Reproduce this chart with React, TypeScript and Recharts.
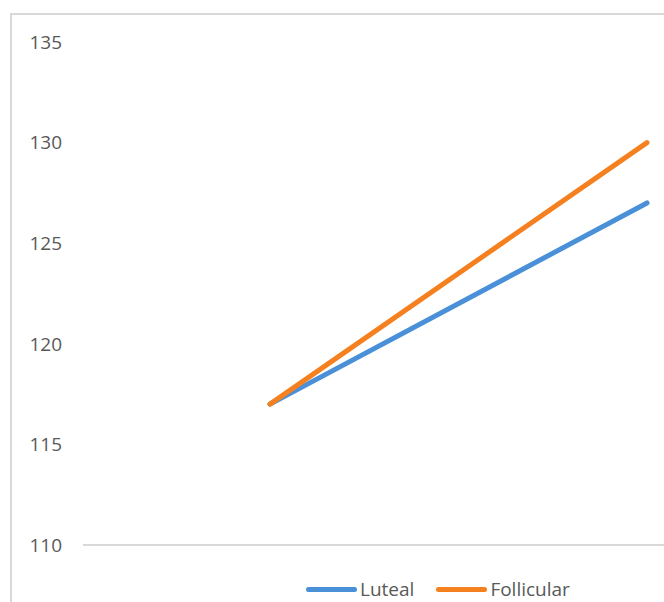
import React from 'react';
import { LineChart, Line, XAxis, YAxis, Legend } from 'recharts';

const categories = ['Phase 1', 'Phase 2'];
const luteal = [117, 127];
const follicular = [117, 130];
const yTicks = [110, 115, 120, 125, 130, 135];

const seriesNames = ['Luteal', 'Follicular'];
const seriesColors = ['#4a90d9', '#f5801f'];

const data = categories.map((c, i) => ({ name: c, Luteal: luteal[i], Follicular: follicular[i] }));

const FONT = '"Open Sans", "Liberation Sans", sans-serif';

const LegendContent = () => (
  <div style={{ display: 'flex', alignItems: 'center', height: 18, fontFamily: FONT, fontSize: 19, color: '#595959' }}>
    {seriesNames.map((n, i) => (
      <div key={n} style={{ display: 'flex', alignItems: 'center', marginRight: i === 0 ? 22 : 0 }}>
        <div style={{ width: 51, height: 5, borderRadius: 3, background: seriesColors[i], marginRight: 3 }} />
        <span style={{ lineHeight: '18px' }}>{n}</span>
      </div>
    ))}
  </div>
);

export default function App() {
  return (
    <div style={{ position: 'absolute', left: 0, top: 0, width: 664, height: 602, overflow: 'hidden', background: '#fff' }}>
      <div style={{ position: 'absolute', left: 10, top: 13, width: 900, height: 700, border: '2px solid #d9d9d9', boxSizing: 'border-box' }} />
      <div style={{ position: 'absolute', left: 0, top: 0 }}>
        <LineChart width={860} height={608} data={data} margin={{ top: 42, right: 23, left: 23, bottom: 10 }}>
          <XAxis
            dataKey="name"
            tick={false}
            tickLine={false}
            axisLine={{ stroke: '#d9d9d9', strokeWidth: 2 }}
            height={35}
            padding={{ left: 187, right: 190 }}
          />
          <YAxis
            domain={[110, 135]}
            ticks={yTicks}
            width={60}
            axisLine={false}
            tickLine={false}
            tickSize={0}
            tickMargin={21}
            tick={{ fill: '#595959', fontSize: 19, fontFamily: FONT }}
          />
          <Legend
            verticalAlign="bottom"
            content={<LegendContent />}
            wrapperStyle={{ left: 306, width: 300 }}
          />
          <Line dataKey="Luteal" stroke={seriesColors[0]} strokeWidth={5} dot={false} strokeLinecap="round" isAnimationActive={false} />
          <Line dataKey="Follicular" stroke={seriesColors[1]} strokeWidth={5} dot={false} strokeLinecap="round" isAnimationActive={false} />
        </LineChart>
      </div>
    </div>
  );
}
